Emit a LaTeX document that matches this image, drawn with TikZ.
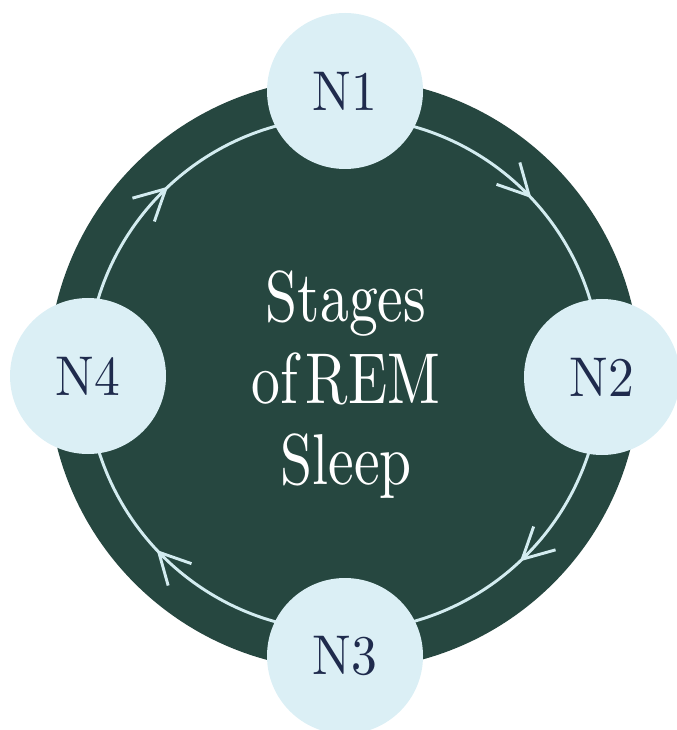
\documentclass[tikz,border=0pt]{standalone}
\usepackage{fontspec}
\setmainfont{lmroman10-regular.otf}
\usepackage{graphicx}
\usetikzlibrary{arrows.meta,decorations.markings}

\definecolor{sleepgreen}{RGB}{38,71,64}
\definecolor{stagefill}{RGB}{219,239,245}
\definecolor{ringblue}{RGB}{211,236,240}
\definecolor{stagenavy}{RGB}{31,43,77}

\tikzset{every picture/.style={line width=0.75pt}}
\tikzset{
  stage/.style={circle, fill=stagefill, draw=none, minimum size=117, inner sep=0pt,
    text=stagenavy, font=\fontsize{42}{42}\selectfont},
  ring/.style={draw=ringblue, line width=2.2pt, line cap=round,
    postaction={decorate},
    decoration={markings,
      mark=between positions 0.13 and 0.88 step 0.25 with
        {\arrow{Straight Barb[length=23pt,width=24pt,line width=2.2pt]}}}},
  title/.style={text=white, inner sep=0pt, font=\fontsize{54}{61}\selectfont}
}

\begin{document}
\begin{tikzpicture}[x=0.75pt,y=0.75pt,yscale=-1,xscale=1]
%set diagram left start at 0, and has height of 730
\useasboundingbox (0,0) rectangle (676,730);

%Shape: Circle [id:dp_back]
\fill [sleepgreen] (344,374) circle [radius=296];
%Shape: Circle [id:dp_ring]
\path [ring] (344,374) circle [radius=257];

% Stage Nodes
\node [stage] (n1) at (345,91) {\scalebox{0.92}[1]{N1}};
\node [stage] (n2) at (602,377) {\scalebox{0.92}[1]{N2}};
\node [stage] (n3) at (345,656) {\scalebox{0.92}[1]{N3}};
\node [stage] (n4) at (88,376) {\scalebox{0.92}[1]{N4}};

% Text Node
\node [title] (ttl) at (346,387)
  {\scalebox{0.8}[1]{\begin{tabular}{@{}c@{}}Stages\\of\kern0.14em REM\\Sleep\end{tabular}}};

\end{tikzpicture}
\end{document}
